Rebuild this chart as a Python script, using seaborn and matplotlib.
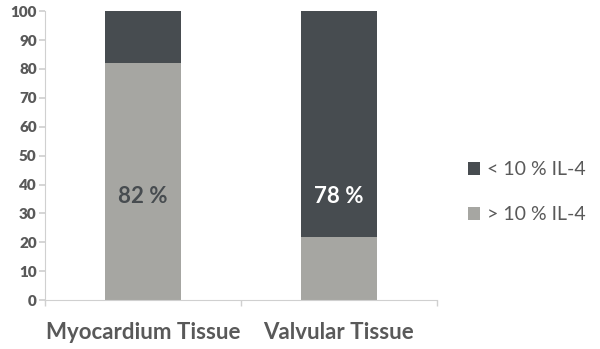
import matplotlib
matplotlib.use("Agg")
import matplotlib.pyplot as plt
import seaborn as sns
import pandas as pd
from matplotlib.patches import Patch

categories = ["Myocardium Tissue", "Valvular Tissue"]
above_10 = [82, 22]      # > 10 % IL-4
below_10 = [18, 78]      # < 10 % IL-4
labels = ["82 %", "78 %"]
yticks = [0, 10, 20, 30, 40, 50, 60, 70, 80, 90, 100]

light = "#a6a6a2"
dark = "#474c50"
txt = "#595959"

sns.set_theme(style="white")
plt.rcParams['font.family'] = ['Lato', 'DejaVu Sans']

df = pd.DataFrame({"cat": categories,
                   "total": [a + b for a, b in zip(above_10, below_10)],
                   "above": above_10})

fig = plt.figure(figsize=(6, 3.49), dpi=100)
ax = fig.add_axes([0.075, 0.14, 0.653, 0.828])

sns.barplot(data=df, x="cat", y="total", color=dark, saturation=1, width=0.39,
            linewidth=0, edgecolor="none", ax=ax)
sns.barplot(data=df, x="cat", y="above", color=light, saturation=1, width=0.39,
            linewidth=0, edgecolor="none", ax=ax)

ax.set_xlim(-0.5, 1.5)
ax.set_ylim(0, 100)
ax.set_yticks(yticks)
ax.set_yticklabels([str(t) for t in yticks], fontsize=11, fontweight="heavy", color=txt)
ax.set_xticks([0, 1])
ax.set_xticklabels(categories, fontsize=16, fontweight="bold", color=txt)
ax.set_xlabel("")
ax.set_ylabel("")

for s in ["top", "right"]:
    ax.spines[s].set_visible(False)
for s in ["left", "bottom"]:
    ax.spines[s].set_color("#d0d0d0")
    ax.spines[s].set_linewidth(0.8)

ax.tick_params(axis="y", which="both", left=True, length=4, color="#d0d0d0", pad=2)
ax.tick_params(axis="x", which="major", bottom=False, pad=10)
ax.set_xticks([-0.5, 0.5, 1.5], minor=True)
ax.tick_params(axis="x", which="minor", bottom=True, length=4, color="#d0d0d0")

ax.text(0, 36, labels[0], ha="center", va="center", fontsize=16, fontweight="bold", color=dark)
ax.text(1, 36, labels[1], ha="center", va="center", fontsize=16, fontweight="bold", color="white")

handles = [Patch(facecolor=dark, edgecolor="none", label="< 10 % IL-4"),
           Patch(facecolor=light, edgecolor="none", label="> 10 % IL-4")]
fig.legend(handles=handles, loc="center left", bbox_to_anchor=(0.75, 0.45), frameon=False,
           fontsize=14, labelcolor=txt, handlelength=0.65, handleheight=0.65,
           labelspacing=1.45, handletextpad=0.35)

fig.savefig("out.png", dpi=100)
